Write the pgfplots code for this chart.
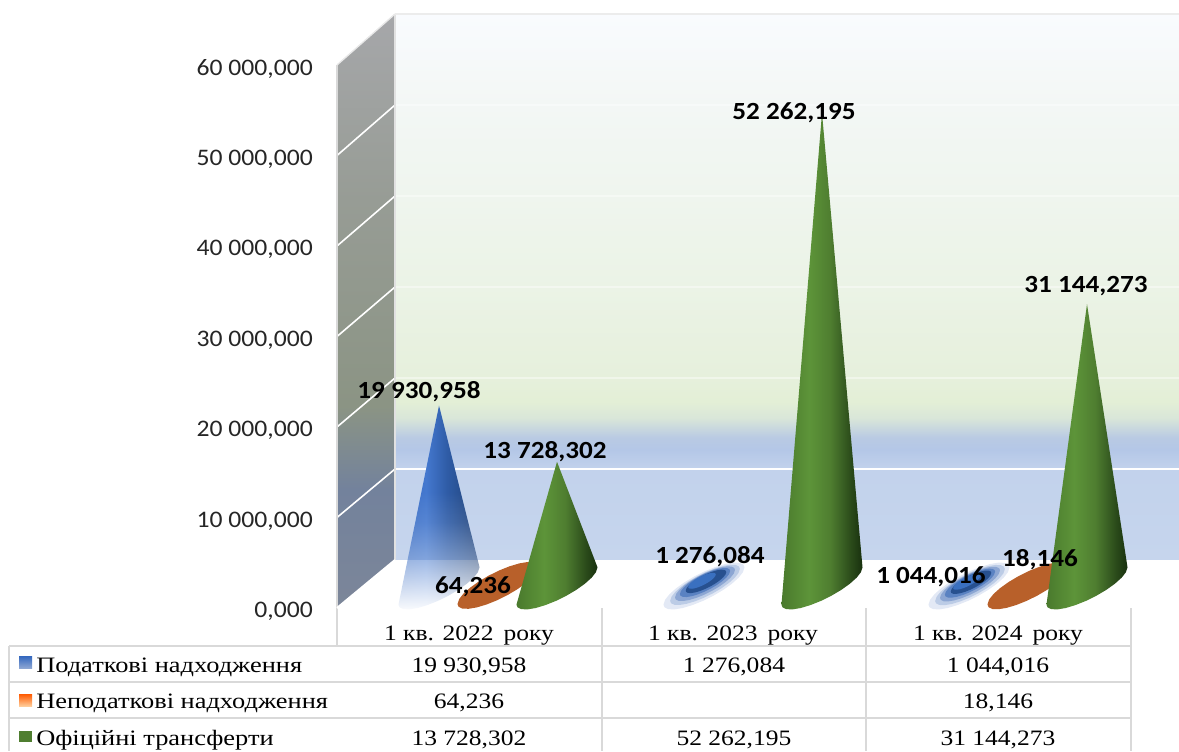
\documentclass[border=0pt]{standalone}
\usepackage{fontspec}
\usepackage{pgfplots}
\usepackage{pgfplotstable}
\pgfplotsset{compat=1.18}
\usetikzlibrary{fadings}
\newfontfamily\tabf[FakeStretch=1.16]{Liberation Serif}
\newfontfamily\rowf[FakeStretch=1.2]{Liberation Serif}
\newfontfamily\tickf[FakeStretch=1.08]{Carlito}
\newfontfamily\labf[FakeStretch=1.1]{Carlito}

\definecolor{gridc}{HTML}{D9D9D9}
\definecolor{colorC6}{HTML}{C6D5ED}\definecolor{colorC2}{HTML}{C2D2EC}\definecolor{colorB4}{HTML}{B4C7E7}
\definecolor{colorB9}{HTML}{B9CAE3}\definecolor{colorD9}{HTML}{D9E6D9}\definecolor{colorE3}{HTML}{E3EFD6}
\definecolor{colorE6}{HTML}{E6F0DC}\definecolor{colorEB}{HTML}{EBF3E6}\definecolor{colorEF}{HTML}{EFF5EE}
\definecolor{colorF3}{HTML}{F3F7F5}\definecolor{colorF9}{HTML}{F9FBFE}
\pgfdeclareverticalshading{backwall}{100bp}{
 color(0bp)=(colorC6); color(25bp)=(colorC6); color(33.4bp)=(colorC2); color(35.1bp)=(colorB4);
 color(36.2bp)=(colorB9); color(38bp)=(colorD9); color(39.5bp)=(colorE3); color(41.7bp)=(colorE6);
 color(50bp)=(colorEB); color(58.3bp)=(colorEF); color(66.7bp)=(colorF3); color(75bp)=(colorF9); color(100bp)=(colorF9)}
\definecolor{sA}{HTML}{7C8699}\definecolor{sB}{HTML}{73829C}\definecolor{sC}{HTML}{8B9484}
\definecolor{sD}{HTML}{979C95}\definecolor{sE}{HTML}{A6A7AA}
\pgfdeclareverticalshading{sidewall}{100bp}{
 color(0bp)=(sA); color(25bp)=(sA); color(35bp)=(sB); color(42bp)=(sC); color(59.3bp)=(sD); color(75bp)=(sE); color(100bp)=(sE)}
\definecolor{gA}{HTML}{4A7A2D}\definecolor{gB}{HTML}{5D9439}\definecolor{gC}{HTML}{4F7E30}
\definecolor{gD}{HTML}{2A4A1A}\definecolor{gE}{HTML}{18300F}
\pgfdeclarehorizontalshading{greencone}{100bp}{
 color(0bp)=(gA); color(25bp)=(gA); color(42bp)=(gB); color(55bp)=(gC); color(68bp)=(gD); color(75bp)=(gE); color(100bp)=(gE)}
\definecolor{bA}{HTML}{3A6CC0}\definecolor{bB}{HTML}{4478CF}\definecolor{bC}{HTML}{2F5CA6}
\definecolor{bD}{HTML}{1E3F72}
\pgfdeclarehorizontalshading{bluecone}{100bp}{
 color(0bp)=(bA); color(25bp)=(bA); color(42bp)=(bB); color(55bp)=(bC); color(75bp)=(bD); color(100bp)=(bD)}
\pgfdeclareverticalshading{fadeshade}{100bp}{
 color(0bp)=(black!97); color(25bp)=(black!97); color(36.8bp)=(black!50); color(46.5bp)=(black!14); color(54bp)=(white); color(100bp)=(white)}
\pgfdeclarefading{conefade}{\pgfuseshading{fadeshade}}

% outline of a cone: the tip (height = the value) and the visible arc of its base, in pixels round the centre of the base
\pgfplotstableread{
dx dy tip
0 0 1
40.52 -18.62 0
38.82 -13.61 0
34.51 -8.20 0
27.85 -2.25 0
19.26 3.90 0
9.37 9.75 0
-1.17 14.96 0
-11.61 19.13 0
-21.26 22.01 0
-29.45 23.38 0
-35.67 23.16 0
-39.43 21.36 0
-40.52 18.62 0
}\conetab
% a whole base
\pgfplotstableread{
dx dy
40.52 -18.62
38.82 -13.61
34.51 -8.20
27.85 -2.25
19.26 3.90
9.37 9.75
-1.17 14.96
-11.61 19.13
-21.26 22.01
-29.45 23.38
-35.67 23.16
-39.43 21.36
-40.52 18.62
-38.82 13.61
-34.51 8.20
-27.85 2.25
-19.26 -3.90
-9.37 -9.75
1.17 -14.96
11.61 -19.13
21.26 -22.01
29.45 -23.38
35.67 -23.16
39.43 -21.36
}\basetab
\newcommand{\floorgap}{2431}
\newcommand{\cone}[3]{\addplot[draw=none,#3] table[x expr=#1+\thisrow{dx}, y expr=\thisrow{tip}*#2+\floorgap-\thisrow{dy}*110.497] {\conetab} --cycle;}
% #1 x, #2 height above the floor of the base, #3 size, #4 fill
\newcommand{\disc}[4]{\addplot[draw=none,fill=#4] table[x expr=#1+#3*\thisrow{dx}, y expr=#2+\floorgap-#3*\thisrow{dy}*110.497] {\basetab} --cycle;}
\newcommand{\bluedisc}[2]{%
 \pgfmathsetmacro{\va}{0.1*#2}\pgfmathsetmacro{\vb}{0.2*#2}\pgfmathsetmacro{\vc}{0.3*#2}\pgfmathsetmacro{\vd}{0.4*#2}\pgfmathsetmacro{\ve}{0.45*#2}%
 \disc{#1}{0}{1}{ringA}%
 \disc{#1+1}{\va}{0.86}{ringB}%
 \disc{#1+1}{\vb}{0.74}{ringC}%
 \disc{#1+1}{\vc}{0.62}{ringD}%
 \disc{#1+2}{\vd}{0.5}{ringE}%
 \disc{#1-2}{\ve}{0.34}{ringF}%
}
\definecolor{ringA}{HTML}{E3E9F5}\definecolor{ringB}{HTML}{BCCCE6}\definecolor{ringC}{HTML}{8CA6D3}
\definecolor{ringD}{HTML}{5A82C2}\definecolor{ringE}{HTML}{27508F}\definecolor{ringF}{HTML}{3A70C0}
\definecolor{orangec}{HTML}{B8602A}

\begin{document}
\begin{tikzpicture}
\path[use as bounding box] (0,0) rectangle (884.25pt,563.25pt);
\begin{axis}[
  at={(252.75pt,107.25pt)}, anchor=south west,
  scale only axis, width=631.5pt, height=407.25pt,
  xmin=337, xmax=1179, ymin=0, ymax=60000, clip=false,
  axis line style={draw=none}, tick style={draw=none}, major tick length=0pt,
  axis x line*=bottom, axis y line*=left,
  scaled y ticks=false,
  ytick={0,10000,20000,30000,40000,50000,60000},
  yticklabels={{0,000},{10 000,000},{20 000,000},{30 000,000},{40 000,000},{50 000,000},{60 000,000}},
  yticklabel style={font=\tickf\fontsize{17.8}{20}\selectfont, color=black!85, anchor=east, inner sep=0pt, xshift=-18pt, yshift=-2.8pt},
  xtick={469,733,998},
  xticklabels={{1 кв. 2022 \,року},{1 кв. 2023 \,року},{1 кв. 2024 \,року}},
  xticklabel style={font=\tabf\fontsize{16.5}{20}\selectfont, anchor=base, inner sep=0pt, yshift=-24.5pt},
]
% walls
\addplot[draw=none,shading=backwall] coordinates {(395,5304)(1179,5304)(1179,65635)(395,65635)} --cycle;
\addplot[draw=none,shading=sidewall] coordinates {(337,0)(395,5304)(395,65635)(337,60000)} --cycle;
% gridlines
\foreach \a/\b in {10000/15359,20000/25414,30000/35470,40000/45525,50000/55580}{
  \edef\tmp{\noexpand\draw[white,line width=1.2pt] (axis cs:337,\a) -- (axis cs:395,\b);}\tmp
  \edef\tmp{\noexpand\draw[white,opacity=0.4,line width=1.2pt] (axis cs:395,\b) -- (axis cs:1179,\b);}\tmp
}
\draw[white,line width=1.4pt] (axis cs:395,15359) -- (axis cs:1179,15359);
% wall edges
\draw[gridc,line width=1.5pt] (axis cs:337,60000) -- (axis cs:337,-4199);
\draw[gridc!80!white,line width=1.8pt] (axis cs:395,5304) -- (axis cs:395,65635);
\draw[gridc!50!white,line width=1.8pt] (axis cs:395,65635) -- (axis cs:1179,65635);
\draw[gridc!60!white,line width=1pt] (axis cs:337,60000) -- (axis cs:395,65635);
\draw[white,line width=1.5pt] (axis cs:337,0) -- (axis cs:395,5304);
% 1 кв. 2022
\cone{439}{19930.958}{shading=bluecone, path fading=conefade}
\disc{498}{64.236}{1}{orangec}
\cone{557}{13728.302}{shading=greencone}
% 1 кв. 2023
\bluedisc{704}{1276.084}
\cone{822}{52262.195}{shading=greencone}
% 1 кв. 2024
\bluedisc{969}{1044.016}
\disc{1028}{18.146}{1}{orangec}
\cone{1087}{31144.273}{shading=greencone}
% data labels
\tikzset{dl/.style={font=\labf\bfseries\fontsize{18.5}{20}\selectfont, inner sep=0pt, anchor=center, yshift=-1.2pt}}
\node[dl] at (axis cs:419,24088) {19 930,958};
\node[dl] at (axis cs:545,17459) {13 728,302};
\node[dl] at (axis cs:473,2541) {64,236};
\node[dl] at (axis cs:710,5856) {1 276,084};
\node[dl] at (axis cs:794,54917) {52 262,195};
\node[dl] at (axis cs:931,3646) {1 044,016};
\node[dl] at (axis cs:1040,5525) {18,146};
\node[dl] at (axis cs:1086,35801) {31 144,273};
% data table
\foreach \yy in {-4199,-8177,-12155}{
  \edef\tmp{\noexpand\draw[gridc,line width=1.2pt] (axis cs:9,\yy) -- (axis cs:1131,\yy);}\tmp
}
\draw[gridc,line width=1.2pt] (axis cs:9,-4199) -- (axis cs:9,-15801);
\foreach \xx in {602,866,1131}{
  \edef\tmp{\noexpand\draw[gridc,line width=1.2pt] (axis cs:\xx,0) -- (axis cs:\xx,-15801);}\tmp
}
\tikzset{tb/.style={font=\tabf\fontsize{16.5}{20}\selectfont, inner sep=0pt, anchor=base}}
\tikzset{tl/.style={font=\rowf\fontsize{16.5}{20}\selectfont, inner sep=0pt, anchor=base west}}
\node[tl] at (axis cs:36,-7072) {Податкові надходження};
\node[tl] at (axis cs:36,-11050) {Неподаткові надходження};
\node[tl] at (axis cs:36,-15139) {Офіційні трансферти};
\node[tb] at (axis cs:469,-7072) {19 930,958};
\node[tb] at (axis cs:734,-7072) {1 276,084};
\node[tb] at (axis cs:998,-7072) {1 044,016};
\node[tb] at (axis cs:469,-11050) {64,236};
\node[tb] at (axis cs:998,-11050) {18,146};
\node[tb] at (axis cs:469,-15139) {13 728,302};
\node[tb] at (axis cs:734,-15139) {52 262,195};
\node[tb] at (axis cs:998,-15139) {31 144,273};
% keys
\addplot[draw=none,top color=bA,bottom color=ringC] coordinates {(19,-5414)(32,-5414)(32,-6630)(19,-6630)} --cycle;
\addplot[draw=none,top color=orange!70!red,bottom color=orange!40!white] coordinates {(19,-9503)(32,-9503)(32,-10829)(19,-10829)} --cycle;
\addplot[draw=none,fill=gC] coordinates {(19,-13591)(32,-13591)(32,-14807)(19,-14807)} --cycle;
\end{axis}
\end{tikzpicture}
\end{document}
